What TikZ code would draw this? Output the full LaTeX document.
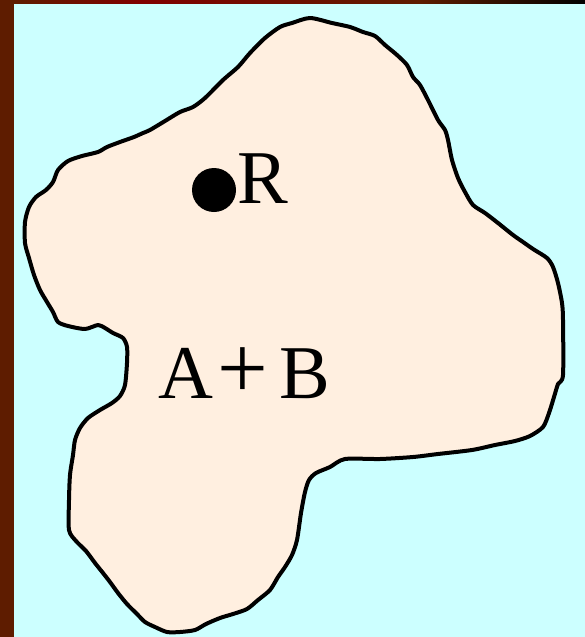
\documentclass[tikz,border=0pt]{standalone}
\usepackage{fontspec}
\setmainfont{Liberation Serif}
\definecolor{bgcyan}{RGB}{204,255,255}
\definecolor{blobfill}{RGB}{255,239,224}
\definecolor{frame}{RGB}{94,28,0}
\definecolor{framered}{RGB}{128,0,0}
\tikzset{
  blob/.style={draw=black, fill=blobfill, line width=4pt, line join=round},
  txt/.style={inner sep=0pt, font=\fontsize{76}{84}\selectfont},
  plustxt/.style={inner sep=0pt, font=\fontsize{90}{96}\selectfont},
  dotmark/.style={circle, fill=black, inner sep=0pt, minimum size=44pt}
}
\begin{document}
\begin{tikzpicture}[x=1pt, y=-1pt]
\useasboundingbox (0,0) rectangle (585,637);
\fill[bgcyan] (0,0) rectangle (585,637);
% frame strips
\fill[frame] (0,0) rectangle (14,637);
\shade[left color=frame, right color=framered] (14,0) rectangle (140,3);
\shade[left color=framered, right color=frame] (140,0) rectangle (420,3);
\shade[left color=frame, right color=black] (420,0) rectangle (585,3);
% blob
\draw[blob] plot[smooth cycle, tension=0.45] coordinates {
 (150,130) (165,121) (180,112) (193,107) (205,98) (223,80) (238,67) (250,53)
 (265,38) (280,27) (292,23) (310,18) (332,23) (350,27) (363,32) (375,36)
 (385,45) (397,55) (407,65) (413,77) (420,85) (428,100) (438,120) (445,130)
 (448,140) (452,160) (458,178) (465,192) (473,205) (485,213) (498,223)
 (513,235) (523,242) (533,249) (547,258) (553,267) (558,283) (562,303)
 (563,320) (563,375) (558,384) (554,397) (549,413) (543,427) (530,436)
 (515,441) (495,445) (472,450) (438,454) (413,457) (380,459) (345,459)
 (330,467) (316,473) (309,480) (305,492) (301,513) (297,540) (292,555)
 (285,567) (278,577) (270,590) (258,600) (247,609) (233,614) (220,618)
 (206,624) (195,630) (180,632) (167,632) (155,627) (145,622) (137,614)
 (127,604) (118,593) (110,582) (103,573) (95,563) (86,551) (76,541)
 (69,530) (69,500) (70,475) (73,455) (75,440) (80,428) (88,418) (100,410)
 (112,403) (120,396) (125,385) (127,363) (127,347) (123,338) (113,333)
 (105,328) (98,325) (85,329) (68,326) (58,322) (53,312) (47,302) (40,290)
 (34,275) (29,258) (25,243) (25,222) (29,207) (36,197) (46,190) (53,182)
 (58,170) (68,161) (82,156) (98,152) (107,147) (120,142) (134,137) (143,133)
};
% labels
\node[dotmark] (dotR) at (214,190) {};
\node[txt, anchor=base] (R) at (263,203) {R};
\node[txt, anchor=base] (A) at (185.5,398) {A};
\node[plustxt, anchor=center] (plus) at (243,373) {+};
\node[txt, anchor=base] (B) at (305,398) {B};
\end{tikzpicture}
\end{document}
